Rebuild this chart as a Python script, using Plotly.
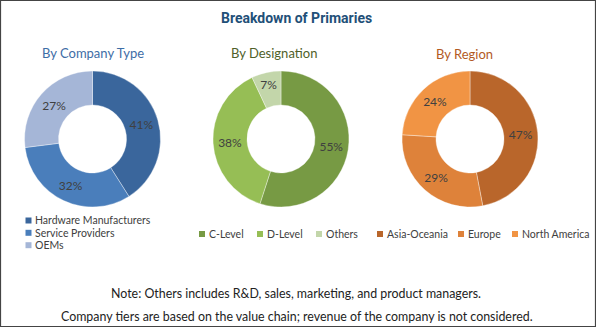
import plotly.graph_objects as go

W, H = 596, 327

company_labels = ["Hardware Manufacturers", "Service Providers", "OEMs"]
company_values = [41, 32, 27]
company_colors = ["#3A669C", "#4A7EBB", "#A5B6D7"]

designation_labels = ["C-Level", "D-Level", "Others"]
designation_values = [55, 38, 7]
designation_colors = ["#779A44", "#96BE55", "#C3D6AA"]

region_labels = ["Asia-Oceania", "Europe", "North America"]
region_values = [47, 29, 24]
region_colors = ["#B9662B", "#DE823A", "#F19444"]

FONT = "Lato, 'Noto Sans', sans-serif"
TXT = "#404040"

def px_x(x):
    return x / W

def px_y(y):
    return 1 - y / H

def dom_x(cx, r=68):
    return [(cx - r) / W, (cx + r) / W]

def dom_y(cy, r=68):
    yb = H - cy
    return [(yb - r) / H, (yb + r) / H]

fig = go.Figure()

# layout of each group: pie centre x, legend marker positions (x, y) in pixels
groups = [
    (company_labels, company_values, company_colors, 92.5,
     [(25.5, 220.5), (25.5, 232.8), (25.5, 245.2)]),
    (designation_labels, designation_values, designation_colors, 281,
     [(199, 234), (257, 234), (316, 234)]),
    (region_labels, region_values, region_colors, 470,
     [(377, 234), (458, 234), (512, 234)]),
]

shapes = []
annotations = []
MK = 6
for labels, values, colors, cx, leg_pos in groups:
    fig.add_trace(go.Pie(
        labels=labels, values=values, hole=0.5, sort=False, direction="clockwise",
        rotation=0,
        marker=dict(colors=colors, line=dict(color="rgba(255,255,255,0.6)", width=0.6)),
        texttemplate="%{value}%", textposition="inside",
        insidetextorientation="horizontal",
        textfont=dict(family=FONT, size=12, color=TXT),
        domain=dict(x=dom_x(cx), y=dom_y(139)),
        showlegend=False, hoverinfo="label+percent",
    ))
    for lab, col, (lx, ly) in zip(labels, colors, leg_pos):
        shapes.append(dict(type="rect", xref="paper", yref="paper",
                           x0=px_x(lx), x1=px_x(lx + MK), y0=px_y(ly + MK / 2), y1=px_y(ly - MK / 2),
                           line=dict(width=0), fillcolor=col))
        annotations.append(dict(text=lab, x=px_x(lx + MK + 1.5), y=px_y(ly), xref="paper", yref="paper",
                                showarrow=False, xanchor="left", yanchor="middle",
                                font=dict(family=FONT, size=10.5, color=TXT)))

annotations += [
    dict(text="<b>Breakdown of Primaries</b>", x=px_x(296), y=px_y(18.5), xref="paper", yref="paper",
         showarrow=False, xanchor="center", yanchor="middle",
         font=dict(family="'Liberation Sans Narrow', Roboto, sans-serif", size=14, color="#1F5078")),
    dict(text="By Company Type", x=px_x(92.5), y=px_y(53), xref="paper", yref="paper",
         showarrow=False, xanchor="center", yanchor="middle",
         font=dict(family=FONT, size=13, color="#3D6DA6")),
    dict(text="By Designation", x=px_x(274), y=px_y(53), xref="paper", yref="paper",
         showarrow=False, xanchor="center", yanchor="middle",
         font=dict(family=FONT, size=13, color="#4F5F2A")),
    dict(text="By Region", x=px_x(464), y=px_y(54), xref="paper", yref="paper",
         showarrow=False, xanchor="center", yanchor="middle",
         font=dict(family=FONT, size=13, color="#B35A1F")),
    dict(text="Note: Others includes R&D, sales, marketing, and product managers.",
         x=px_x(296), y=px_y(293), xref="paper", yref="paper",
         showarrow=False, xanchor="center", yanchor="middle",
         font=dict(family=FONT, size=12.4, color="#222222")),
    dict(text="Company tiers are based on the value chain; revenue of the company is not considered.",
         x=px_x(297), y=px_y(316), xref="paper", yref="paper",
         showarrow=False, xanchor="center", yanchor="middle",
         font=dict(family=FONT, size=12.4, color="#222222")),
]

shapes.append(dict(type="rect", xref="paper", yref="paper", x0=px_x(0.5), y0=px_y(H - 0.5),
                   x1=px_x(W - 0.5), y1=px_y(0.5),
                   line=dict(color="#444444", width=1.2), fillcolor="rgba(0,0,0,0)"))

fig.update_layout(
    width=W, height=H,
    margin=dict(l=0, r=0, t=0, b=0, autoexpand=False),
    paper_bgcolor="white", plot_bgcolor="white",
    showlegend=False,
    annotations=annotations,
    shapes=shapes,
)

fig.write_html("out.html")
